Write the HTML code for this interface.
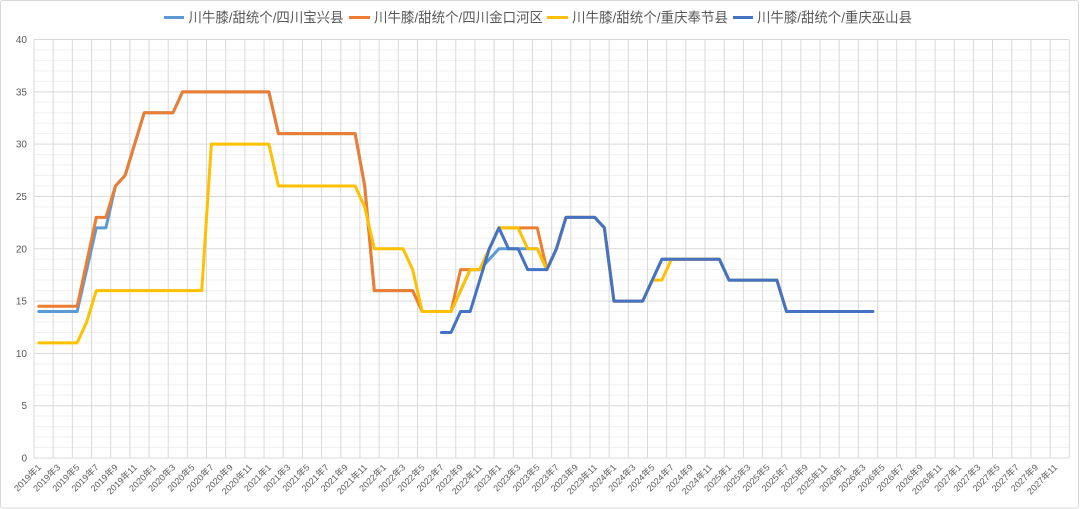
<!DOCTYPE html>
<html>
<head>
<meta charset="utf-8">
<style>
html,body{margin:0;padding:0;background:#fff;}
svg{display:block;}
text{font-family:"Liberation Sans","Noto Sans CJK SC",sans-serif;fill:#595959;}
</style>
</head>
<body>
<svg width="1080" height="509" viewBox="0 0 1080 509" xmlns="http://www.w3.org/2000/svg">
<rect x="0" y="0" width="1080" height="509" fill="#fff"/>
<rect x="0.5" y="0.5" width="1078" height="507.5" fill="none" stroke="#d9d9d9" stroke-width="1" rx="2"/>

<!-- minor horizontal gridlines -->
<g transform="translate(0,458) scale(1,-10.4625)">
<path vector-effect="non-scaling-stroke" stroke="#f0f0f0" stroke-width="1" fill="none"
d="M34 1H1069.3M34 2H1069.3M34 3H1069.3M34 4H1069.3M34 6H1069.3M34 7H1069.3M34 8H1069.3M34 9H1069.3M34 11H1069.3M34 12H1069.3M34 13H1069.3M34 14H1069.3M34 16H1069.3M34 17H1069.3M34 18H1069.3M34 19H1069.3M34 21H1069.3M34 22H1069.3M34 23H1069.3M34 24H1069.3M34 26H1069.3M34 27H1069.3M34 28H1069.3M34 29H1069.3M34 31H1069.3M34 32H1069.3M34 33H1069.3M34 34H1069.3M34 36H1069.3M34 37H1069.3M34 38H1069.3M34 39H1069.3"/>
<path vector-effect="non-scaling-stroke" stroke="#d9d9d9" stroke-width="1" fill="none"
d="M34 0H1069.3M34 5H1069.3M34 10H1069.3M34 15H1069.3M34 20H1069.3M34 25H1069.3M34 30H1069.3M34 35H1069.3M34 40H1069.3"/>
</g>
<!-- vertical gridlines -->
<g transform="translate(34,0) scale(19.172,1)">
<path vector-effect="non-scaling-stroke" stroke="#d9d9d9" stroke-width="1" fill="none"
d="M0 39.5V458M1 39.5V458M2 39.5V458M3 39.5V458M4 39.5V458M5 39.5V458M6 39.5V458M7 39.5V458M8 39.5V458M9 39.5V458M10 39.5V458M11 39.5V458M12 39.5V458M13 39.5V458M14 39.5V458M15 39.5V458M16 39.5V458M17 39.5V458M18 39.5V458M19 39.5V458M20 39.5V458M21 39.5V458M22 39.5V458M23 39.5V458M24 39.5V458M25 39.5V458M26 39.5V458M27 39.5V458M28 39.5V458M29 39.5V458M30 39.5V458M31 39.5V458M32 39.5V458M33 39.5V458M34 39.5V458M35 39.5V458M36 39.5V458M37 39.5V458M38 39.5V458M39 39.5V458M40 39.5V458M41 39.5V458M42 39.5V458M43 39.5V458M44 39.5V458M45 39.5V458M46 39.5V458M47 39.5V458M48 39.5V458M49 39.5V458M50 39.5V458M51 39.5V458M52 39.5V458M53 39.5V458M54 39.5V458"/>
</g>

<!-- y labels -->
<g font-size="10" text-anchor="end">
<text x="27" y="461.5">0</text>
<text x="27" y="409.2">5</text>
<text x="27" y="356.9">10</text>
<text x="27" y="304.6">15</text>
<text x="27" y="252.3">20</text>
<text x="27" y="200">25</text>
<text x="27" y="147.6">30</text>
<text x="27" y="95.3">35</text>
<text x="27" y="43">40</text>
</g>

<!-- x labels -->
<g font-size="9" text-anchor="end">
<text transform="translate(41.79,468) rotate(-45)">2019年1</text>
<text transform="translate(60.96,468) rotate(-45)">2019年3</text>
<text transform="translate(80.13,468) rotate(-45)">2019年5</text>
<text transform="translate(99.31,468) rotate(-45)">2019年7</text>
<text transform="translate(118.48,468) rotate(-45)">2019年9</text>
<text transform="translate(137.65,468) rotate(-45)">2019年11</text>
<text transform="translate(156.82,468) rotate(-45)">2020年1</text>
<text transform="translate(175.99,468) rotate(-45)">2020年3</text>
<text transform="translate(195.17,468) rotate(-45)">2020年5</text>
<text transform="translate(214.34,468) rotate(-45)">2020年7</text>
<text transform="translate(233.51,468) rotate(-45)">2020年9</text>
<text transform="translate(252.68,468) rotate(-45)">2020年11</text>
<text transform="translate(271.85,468) rotate(-45)">2021年1</text>
<text transform="translate(291.03,468) rotate(-45)">2021年3</text>
<text transform="translate(310.20,468) rotate(-45)">2021年5</text>
<text transform="translate(329.37,468) rotate(-45)">2021年7</text>
<text transform="translate(348.54,468) rotate(-45)">2021年9</text>
<text transform="translate(367.71,468) rotate(-45)">2021年11</text>
<text transform="translate(386.89,468) rotate(-45)">2022年1</text>
<text transform="translate(406.06,468) rotate(-45)">2022年3</text>
<text transform="translate(425.23,468) rotate(-45)">2022年5</text>
<text transform="translate(444.40,468) rotate(-45)">2022年7</text>
<text transform="translate(463.57,468) rotate(-45)">2022年9</text>
<text transform="translate(482.75,468) rotate(-45)">2022年11</text>
<text transform="translate(501.92,468) rotate(-45)">2023年1</text>
<text transform="translate(521.09,468) rotate(-45)">2023年3</text>
<text transform="translate(540.26,468) rotate(-45)">2023年5</text>
<text transform="translate(559.43,468) rotate(-45)">2023年7</text>
<text transform="translate(578.61,468) rotate(-45)">2023年9</text>
<text transform="translate(597.78,468) rotate(-45)">2023年11</text>
<text transform="translate(616.95,468) rotate(-45)">2024年1</text>
<text transform="translate(636.12,468) rotate(-45)">2024年3</text>
<text transform="translate(655.29,468) rotate(-45)">2024年5</text>
<text transform="translate(674.47,468) rotate(-45)">2024年7</text>
<text transform="translate(693.64,468) rotate(-45)">2024年9</text>
<text transform="translate(712.81,468) rotate(-45)">2024年11</text>
<text transform="translate(731.98,468) rotate(-45)">2025年1</text>
<text transform="translate(751.15,468) rotate(-45)">2025年3</text>
<text transform="translate(770.33,468) rotate(-45)">2025年5</text>
<text transform="translate(789.50,468) rotate(-45)">2025年7</text>
<text transform="translate(808.67,468) rotate(-45)">2025年9</text>
<text transform="translate(827.84,468) rotate(-45)">2025年11</text>
<text transform="translate(847.01,468) rotate(-45)">2026年1</text>
<text transform="translate(866.19,468) rotate(-45)">2026年3</text>
<text transform="translate(885.36,468) rotate(-45)">2026年5</text>
<text transform="translate(904.53,468) rotate(-45)">2026年7</text>
<text transform="translate(923.70,468) rotate(-45)">2026年9</text>
<text transform="translate(942.87,468) rotate(-45)">2026年11</text>
<text transform="translate(962.05,468) rotate(-45)">2027年1</text>
<text transform="translate(981.22,468) rotate(-45)">2027年3</text>
<text transform="translate(1000.39,468) rotate(-45)">2027年5</text>
<text transform="translate(1019.56,468) rotate(-45)">2027年7</text>
<text transform="translate(1038.73,468) rotate(-45)">2027年9</text>
<text transform="translate(1057.91,468) rotate(-45)">2027年11</text>
</g>

<!-- series -->
<g transform="translate(38.793,458) scale(9.586,-10.4625)" fill="none" stroke-linejoin="round" stroke-linecap="round">
<polyline vector-effect="non-scaling-stroke" stroke="#5B9BD5" stroke-width="3"
points="0,14 4,14 5,18 6,22 7,22 8,26 9,27 10,30 11,33 14,33 15,35 24,35 25,31 33,31 34,26 35,16 39,16 40,14 43,14 44,16 45,18 46,18 47,19 48,20 52,20 53,18 54,20 55,23 58,23 59,22 60,15 63,15 64,17 65,19 71,19 72,17 77,17 78,14 87,14"/>
<polyline vector-effect="non-scaling-stroke" stroke="#ED7D31" stroke-width="3"
points="0,14.5 4,14.5 5,18.75 6,23 7,23 8,26 9,27 10,30 11,33 14,33 15,35 24,35 25,31 33,31 34,26 35,16 39,16 40,14 43,14 44,18 46,18 47,20 48,22 52,22 53,18 54,20 55,23 58,23 59,22 60,15 63,15 64,17 65,19 71,19 72,17 77,17 78,14 87,14"/>
<polyline vector-effect="non-scaling-stroke" stroke="#FFC000" stroke-width="3"
points="0,11 4,11 5,13 6,16 17,16 18,30 24,30 25,26 33,26 34,24 35,20 38,20 39,18 40,14 43,14 44,16 45,18 46,18 47,20 48,22 50,22 51,20 52,20 53,18 54,20 55,23 58,23 59,22 60,15 63,15 64,17 65,17 66,19 71,19 72,17 77,17 78,14 87,14"/>
<polyline vector-effect="non-scaling-stroke" stroke="#4472C4" stroke-width="3"
points="42,12 43,12 44,14 45,14 46,17 47,20 48,22 49,20 50,20 51,18 53,18 54,20 55,23 58,23 59,22 60,15 63,15 64,17 65,19 71,19 72,17 77,17 78,14 87,14"/>
</g>

<!-- legend -->
<g stroke-width="3" stroke-linecap="butt">
<line x1="164" y1="17.5" x2="184" y2="17.5" stroke="#5B9BD5"/>
<line x1="349" y1="17.5" x2="370" y2="17.5" stroke="#ED7D31"/>
<line x1="547" y1="17.5" x2="568" y2="17.5" stroke="#FFC000"/>
<line x1="733" y1="17.5" x2="753" y2="17.5" stroke="#4472C4"/>
</g>
<g font-size="14">
<text x="188.5" y="22.5" textLength="155" lengthAdjust="spacingAndGlyphs">川牛膝/甜统个/四川宝兴县</text>
<text x="374" y="22.5" textLength="169" lengthAdjust="spacingAndGlyphs">川牛膝/甜统个/四川金口河区</text>
<text x="572" y="22.5" textLength="156" lengthAdjust="spacingAndGlyphs">川牛膝/甜统个/重庆奉节县</text>
<text x="757" y="22.5" textLength="155" lengthAdjust="spacingAndGlyphs">川牛膝/甜统个/重庆巫山县</text>
</g>
</svg>
</body>
</html>
